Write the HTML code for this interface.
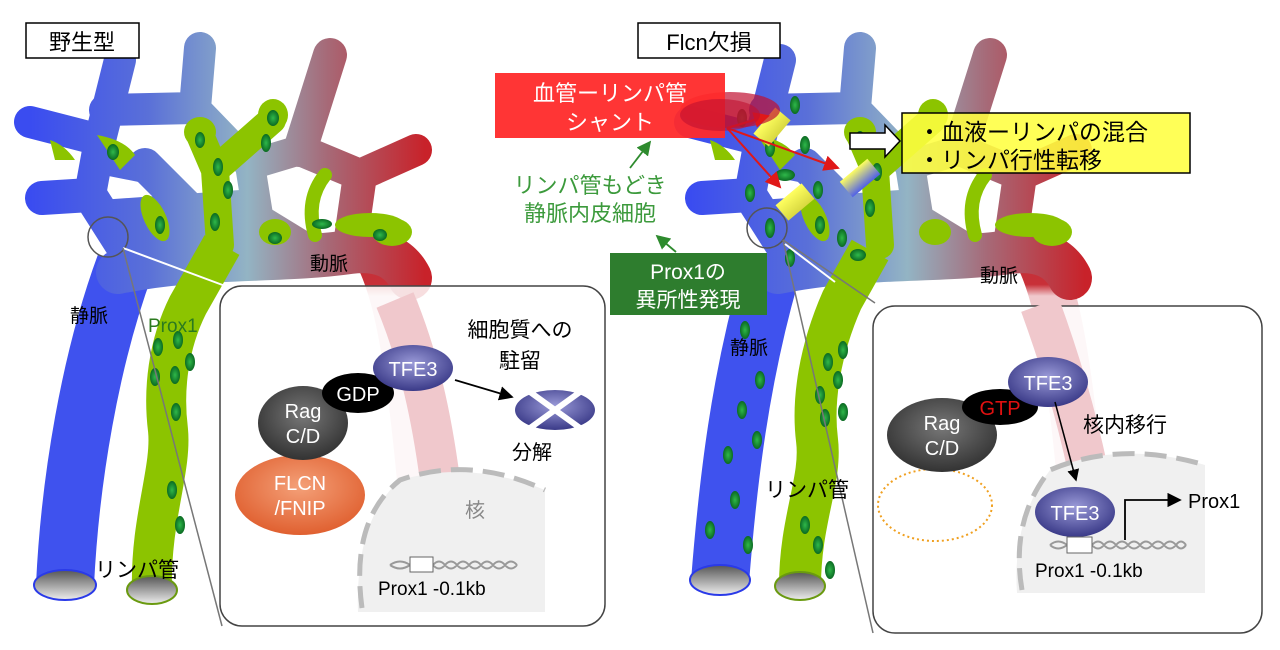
<!DOCTYPE html>
<html><head><meta charset="utf-8"><style>
html,body{margin:0;padding:0;background:#fff;width:1280px;height:650px;overflow:hidden}
svg{display:block}
text{font-family:"Liberation Sans","Noto Sans CJK JP",sans-serif}
</style></head><body>
<svg width="1280" height="650" viewBox="0 0 1280 650" xmlns="http://www.w3.org/2000/svg">
<defs>
<linearGradient id="vg" gradientUnits="userSpaceOnUse" x1="30" y1="0" x2="425" y2="0">
<stop offset="0" stop-color="#3a4cf0"/><stop offset="0.3" stop-color="#5a70d8"/><stop offset="0.55" stop-color="#93b4c4"/><stop offset="0.75" stop-color="#a66a78"/><stop offset="1" stop-color="#c8222a"/></linearGradient>
<linearGradient id="ag" gradientUnits="userSpaceOnUse" x1="0" y1="250" x2="0" y2="480">
<stop offset="0" stop-color="#c03038"/><stop offset="0.15" stop-color="#c83038"/><stop offset="0.2" stop-color="#f0c8cc"/><stop offset="1" stop-color="#f0c8cc"/></linearGradient>
<linearGradient id="tube" x1="0" y1="0" x2="0" y2="1"><stop offset="0" stop-color="#555"/><stop offset="1" stop-color="#eee"/></linearGradient>
<radialGradient id="dot" cx="0.5" cy="0.5" r="0.5"><stop offset="0" stop-color="#2fb84a"/><stop offset="1" stop-color="#0b6a22"/></radialGradient>
<radialGradient id="tfe" cx="0.5" cy="0.4" r="0.6"><stop offset="0" stop-color="#9a9ad8"/><stop offset="1" stop-color="#3a3a88"/></radialGradient>
<radialGradient id="rag" cx="0.5" cy="0.4" r="0.6"><stop offset="0" stop-color="#777"/><stop offset="1" stop-color="#333"/></radialGradient>
<radialGradient id="flcn" cx="0.5" cy="0.4" r="0.6"><stop offset="0" stop-color="#f4a078"/><stop offset="1" stop-color="#e06030"/></radialGradient>
<linearGradient id="shunt" x1="0" y1="0" x2="1" y2="0"><stop offset="0" stop-color="#ffff60"/><stop offset="1" stop-color="#d8d840"/></linearGradient>
<linearGradient id="shunt2" x1="0" y1="0" x2="1" y2="0"><stop offset="0" stop-color="#ffff60"/><stop offset="1" stop-color="#5060e8"/></linearGradient>
<marker id="ah" markerWidth="8" markerHeight="8" refX="7" refY="4" orient="auto"><path d="M0,0 L8,4 L0,8 z" fill="#000"/></marker>
<marker id="ahr" markerWidth="8" markerHeight="8" refX="7" refY="4" orient="auto"><path d="M0,0 L8,4 L0,8 z" fill="#e01818"/></marker>
<marker id="ahg" markerWidth="8" markerHeight="8" refX="7" refY="4" orient="auto"><path d="M0,0 L8,4 L0,8 z" fill="#2e8b2e"/></marker>
<g id="net">
 <path d="M365 235 C390 270 405 320 420 480" stroke="url(#ag)" stroke-width="46" fill="none"/>
 <path d="M100 200 L240 190 L330 245 L120 292 Z" fill="url(#vg)"/>
 <g stroke="url(#vg)" fill="none" stroke-linecap="round" stroke-linejoin="round">
  <path d="M118 272 C200 255 280 262 350 252 C380 248 400 258 410 278" stroke-width="44"/>
  <path d="M125 250 L90 195 L42 198" stroke-width="34"/>
  <path d="M90 195 L100 140 L30 122" stroke-width="32"/>
  <path d="M100 140 L120 60" stroke-width="32"/>
  <path d="M105 110 L195 108 L200 48" stroke-width="32"/>
  <path d="M195 108 L250 165 L300 150" stroke-width="30"/>
  <path d="M300 150 L330 55" stroke-width="34"/>
  <path d="M300 150 L360 175 L416 150" stroke-width="32"/>
  <path d="M360 175 L350 245" stroke-width="34"/>
  <path d="M145 165 L230 250" stroke-width="34"/>
  <path d="M250 165 L262 240" stroke-width="30"/>
  <path d="M100 160 L150 170" stroke-width="28"/>
 </g>
</g>
<g id="lymph" fill="#8cc400" stroke-linecap="round" stroke-linejoin="round">
 <path d="M220 245 L215 170 L200 135 M215 170 L272 120" stroke="#8cc400" stroke-width="28" fill="none"/>
 <ellipse cx="200" cy="132" rx="16" ry="15"/>
 <ellipse cx="273" cy="115" rx="15" ry="16"/>
 <path d="M97 135 Q125 140 135 155 L120 170 Z"/>
 <path d="M50 140 Q65 145 75 160 L55 160 Z"/>
 <ellipse cx="155" cy="218" rx="11" ry="25" transform="rotate(-25 155 218)"/>
 <ellipse cx="275" cy="232" rx="16" ry="13"/>
 <ellipse cx="370" cy="225" rx="35" ry="12"/>
 <ellipse cx="392" cy="232" rx="20" ry="14"/>
 <path d="M325 175 Q305 200 315 235" stroke="#8cc400" stroke-width="14" fill="none"/>
</g>
</defs>

<!-- LEFT PANEL -->
<path d="M65 585 C70 480 90 360 125 265" stroke="#3f52ee" stroke-width="58" fill="none"/>
<use href="#net"/>
<path d="M152 590 C150 520 172 470 168 430 C163 390 168 345 188 305 L222 245" stroke="#8cc400" stroke-width="40" fill="none"/>
<use href="#lymph"/>
<g fill="url(#dot)">
 <ellipse cx="113" cy="152" rx="6" ry="8"/><ellipse cx="160" cy="225" rx="5" ry="9"/>
 <ellipse cx="200" cy="140" rx="5" ry="8"/><ellipse cx="218" cy="167" rx="5" ry="9"/><ellipse cx="228" cy="190" rx="5" ry="9"/><ellipse cx="215" cy="222" rx="5" ry="9"/>
 <ellipse cx="273" cy="118" rx="6" ry="8"/><ellipse cx="266" cy="143" rx="5" ry="9"/>
 <ellipse cx="275" cy="238" rx="7" ry="6"/><ellipse cx="322" cy="224" rx="10" ry="5"/><ellipse cx="380" cy="235" rx="7" ry="6"/>
 <ellipse cx="158" cy="347" rx="5" ry="9"/><ellipse cx="178" cy="340" rx="5" ry="9"/><ellipse cx="190" cy="362" rx="5" ry="9"/><ellipse cx="155" cy="377" rx="5" ry="9"/><ellipse cx="175" cy="375" rx="5" ry="9"/><ellipse cx="176" cy="412" rx="5" ry="9"/>
 <ellipse cx="172" cy="490" rx="5" ry="9"/><ellipse cx="180" cy="525" rx="5" ry="9"/>
</g>
<ellipse cx="65" cy="585" rx="31" ry="15" fill="url(#tube)" stroke="#2a3ae8" stroke-width="2"/>
<ellipse cx="152" cy="590" rx="25" ry="14" fill="url(#tube)" stroke="#6a9a10" stroke-width="2"/>
<circle cx="108" cy="237" r="20" fill="none" stroke="#555" stroke-width="1.5"/>
<line x1="123" y1="248" x2="228" y2="287" stroke="#fff" stroke-width="2"/>
<line x1="123" y1="248" x2="222" y2="626" stroke="#777" stroke-width="1.5"/>
<rect x="220" y="286" width="385" height="340" rx="22" fill="#fff" fill-opacity="0.85" stroke="#444" stroke-width="1.5"/>
<path d="M395 300 C420 360 432 420 440 480" stroke="#f0c8cc" stroke-width="40" fill="none"/>
<rect x="26" y="23" width="113" height="35" fill="#fff" stroke="#000" stroke-width="1.5"/>
<text x="82" y="50" font-size="22" text-anchor="middle">野生型</text>
<text x="70" y="322" font-size="19">静脈</text>
<text x="148" y="332" font-size="19" fill="#2b7a1f">Prox1</text>
<text x="310" y="270" font-size="19">動脈</text>
<text x="95" y="577" font-size="21">リンパ管</text>
<path d="M358 612 L545 612 L545 490 Q470 460 400 480 Q355 520 358 612 Z" fill="#f0f0f0"/>
<path d="M362 608 Q350 520 400 480 Q470 455 545 490" fill="none" stroke="#bbb" stroke-width="5" stroke-dasharray="22,10"/>
<text x="475" y="517" font-size="20" fill="#888" text-anchor="middle">核</text>
<path d="M390 565 Q400 558 410 565 M390 565 Q400 572 410 565 M433 565 q6 -7 12 0 q6 7 12 0 q6 -7 12 0 q6 7 12 0 q6 -7 12 0 q6 7 12 0 q6 -7 12 0 M433 565 q6 7 12 0 q6 -7 12 0 q6 7 12 0 q6 -7 12 0 q6 7 12 0 q6 -7 12 0 q6 7 12 0" stroke="#999" stroke-width="2" fill="none"/>
<rect x="410" y="557" width="23" height="15" fill="#fff" stroke="#666"/>
<text x="378" y="595" font-size="19">Prox1 -0.1kb</text>
<ellipse cx="300" cy="495" rx="65" ry="40" fill="url(#flcn)"/>
<text x="300" y="490" font-size="20" fill="#fff" text-anchor="middle">FLCN</text>
<text x="300" y="515" font-size="20" fill="#fff" text-anchor="middle">/FNIP</text>
<ellipse cx="303" cy="423" rx="45" ry="37" fill="url(#rag)"/>
<text x="303" y="418" font-size="20" fill="#fff" text-anchor="middle">Rag</text>
<text x="303" y="443" font-size="20" fill="#fff" text-anchor="middle">C/D</text>
<ellipse cx="358" cy="393" rx="36" ry="20" fill="#000"/>
<text x="358" y="401" font-size="20" fill="#fff" text-anchor="middle">GDP</text>
<ellipse cx="413" cy="368" rx="40" ry="23" fill="url(#tfe)"/>
<text x="413" y="376" font-size="20" fill="#fff" text-anchor="middle">TFE3</text>
<line x1="455" y1="380" x2="512" y2="397" stroke="#000" stroke-width="1.8" marker-end="url(#ah)"/>
<ellipse cx="555" cy="410" rx="40" ry="20" fill="url(#tfe)"/>
<path d="M530 392 L580 428 M580 392 L530 428" stroke="#fff" stroke-width="6"/>
<text x="532" y="459" font-size="20" text-anchor="middle">分解</text>
<text x="520" y="337" font-size="21" text-anchor="middle">細胞質への</text>
<text x="520" y="368" font-size="21" text-anchor="middle">駐留</text>

<!-- RIGHT PANEL -->
<path d="M720 582 C728 480 740 380 770 275" stroke="#3f52ee" stroke-width="58" fill="none"/>
<g transform="translate(660,0)"><use href="#net"/></g>
<path d="M800 586 C800 520 822 480 817 440 C812 400 820 350 842 300 L870 250" stroke="#8cc400" stroke-width="42" fill="none"/>
<g transform="translate(660,0)"><use href="#lymph"/></g>
<g fill="url(#dot)">
 <ellipse cx="742" cy="118" rx="5" ry="9"/><ellipse cx="795" cy="105" rx="5" ry="9"/><ellipse cx="770" cy="148" rx="5" ry="9"/><ellipse cx="805" cy="145" rx="5" ry="9"/><ellipse cx="785" cy="175" rx="10" ry="6"/><ellipse cx="750" cy="193" rx="5" ry="9"/><ellipse cx="818" cy="190" rx="5" ry="9"/><ellipse cx="770" cy="228" rx="5" ry="10"/><ellipse cx="820" cy="225" rx="5" ry="9"/><ellipse cx="860" cy="140" rx="5" ry="9"/><ellipse cx="877" cy="172" rx="5" ry="9"/><ellipse cx="870" cy="208" rx="5" ry="9"/><ellipse cx="842" cy="238" rx="5" ry="9"/><ellipse cx="858" cy="255" rx="8" ry="6"/><ellipse cx="790" cy="258" rx="5" ry="9"/>
 <ellipse cx="755" cy="300" rx="5" ry="9"/><ellipse cx="745" cy="330" rx="5" ry="9"/><ellipse cx="760" cy="380" rx="5" ry="9"/><ellipse cx="742" cy="410" rx="5" ry="9"/><ellipse cx="757" cy="440" rx="5" ry="9"/><ellipse cx="728" cy="455" rx="5" ry="9"/><ellipse cx="735" cy="500" rx="5" ry="9"/><ellipse cx="710" cy="530" rx="5" ry="9"/><ellipse cx="748" cy="545" rx="5" ry="9"/>
 <ellipse cx="828" cy="362" rx="5" ry="9"/><ellipse cx="843" cy="350" rx="5" ry="9"/><ellipse cx="820" cy="395" rx="5" ry="9"/><ellipse cx="838" cy="380" rx="5" ry="9"/><ellipse cx="825" cy="418" rx="5" ry="9"/><ellipse cx="843" cy="412" rx="5" ry="9"/>
 <ellipse cx="805" cy="525" rx="5" ry="9"/><ellipse cx="818" cy="545" rx="5" ry="9"/><ellipse cx="830" cy="570" rx="5" ry="9"/>
</g>
<rect x="762" y="110" width="20" height="34" fill="url(#shunt)" transform="rotate(40 772 127)"/>
<rect x="850" y="160" width="20" height="36" fill="url(#shunt2)" transform="rotate(50 860 178)"/>
<rect x="785" y="185" width="20" height="34" fill="url(#shunt)" transform="rotate(50 795 202)"/>
<ellipse cx="730" cy="110" rx="50" ry="18" fill="#c01030" opacity="0.7"/>
<g stroke="#e01818" stroke-width="2" fill="none">
 <line x1="727" y1="128" x2="768" y2="116" marker-end="url(#ahr)"/>
 <line x1="727" y1="128" x2="838" y2="168" marker-end="url(#ahr)"/>
 <line x1="727" y1="128" x2="780" y2="187" marker-end="url(#ahr)"/>
</g>
<ellipse cx="720" cy="580" rx="30" ry="15" fill="url(#tube)" stroke="#2a3ae8" stroke-width="2"/>
<ellipse cx="800" cy="586" rx="25" ry="14" fill="url(#tube)" stroke="#6a9a10" stroke-width="2"/>
<circle cx="767" cy="228" r="20" fill="none" stroke="#555" stroke-width="1.5"/>
<line x1="783" y1="240" x2="875" y2="303" stroke="#777" stroke-width="1.5"/>
<line x1="783" y1="240" x2="873" y2="633" stroke="#777" stroke-width="1.5"/>
<line x1="785" y1="244" x2="835" y2="282" stroke="#fff" stroke-width="2"/>
<rect x="873" y="306" width="389" height="327" rx="22" fill="#fff" fill-opacity="0.85" stroke="#444" stroke-width="1.5"/>
<path d="M1040 305 C1060 360 1075 410 1088 470" stroke="#f0c8cc" stroke-width="40" fill="none"/>
<rect x="638" y="23" width="142" height="35" fill="#fff" stroke="#000" stroke-width="1.5"/>
<text x="709" y="50" font-size="22" text-anchor="middle">Flcn欠損</text>
<rect x="495" y="73" width="230" height="65" fill="#ff2a2a" fill-opacity="0.95"/>
<ellipse cx="720" cy="115" rx="40" ry="16" fill="#c01030" opacity="0.6"/>
<text x="610" y="101" font-size="22" fill="#fff" text-anchor="middle">血管ーリンパ管</text>
<text x="610" y="130" font-size="22" fill="#fff" text-anchor="middle">シャント</text>
<line x1="630" y1="168" x2="650" y2="142" stroke="#2e8b2e" stroke-width="1.8" marker-end="url(#ahg)"/>
<text x="590" y="193" font-size="22" fill="#3c9a3c" text-anchor="middle">リンパ管もどき</text>
<text x="590" y="221" font-size="22" fill="#3c9a3c" text-anchor="middle">静脈内皮細胞</text>
<line x1="676" y1="252" x2="657" y2="236" stroke="#2e8b2e" stroke-width="1.8" marker-end="url(#ahg)"/>
<rect x="610" y="253" width="157" height="62" fill="#2e7d2e"/>
<text x="688" y="279" font-size="21" fill="#fff" text-anchor="middle">Prox1の</text>
<text x="688" y="307" font-size="21" fill="#fff" text-anchor="middle">異所性発現</text>
<path d="M850 133 L885 133 L885 125 L900 141 L885 157 L885 149 L850 149 Z" fill="#fff" stroke="#000" stroke-width="1.5"/>
<rect x="902" y="113" width="288" height="60" fill="#ffff40" fill-opacity="0.88" stroke="#000" stroke-width="1.5"/>
<text x="918" y="140" font-size="23">・血液ーリンパの混合</text>
<text x="918" y="168" font-size="23">・リンパ行性転移</text>
<text x="730" y="354" font-size="19">静脈</text>
<text x="980" y="282" font-size="19">動脈</text>
<text x="765" y="497" font-size="21">リンパ管</text>
<path d="M1017 593 L1205 593 L1205 465 Q1120 440 1050 470 Q1012 520 1017 593 Z" fill="#f0f0f0"/>
<path d="M1022 590 Q1010 520 1050 470 Q1120 440 1205 465" fill="none" stroke="#bbb" stroke-width="5" stroke-dasharray="22,10"/>
<ellipse cx="935" cy="505" rx="57" ry="36" fill="none" stroke="#f0a020" stroke-width="2" stroke-dasharray="2,3"/>
<ellipse cx="942" cy="435" rx="55" ry="37" fill="url(#rag)"/>
<text x="942" y="430" font-size="20" fill="#fff" text-anchor="middle">Rag</text>
<text x="942" y="455" font-size="20" fill="#fff" text-anchor="middle">C/D</text>
<ellipse cx="1000" cy="407" rx="38" ry="18" fill="#000"/>
<text x="1000" y="415" font-size="20" fill="#e01010" text-anchor="middle">GTP</text>
<ellipse cx="1048" cy="382" rx="40" ry="25" fill="url(#tfe)"/>
<text x="1048" y="390" font-size="20" fill="#fff" text-anchor="middle">TFE3</text>
<line x1="1055" y1="402" x2="1076" y2="480" stroke="#000" stroke-width="1.5" marker-end="url(#ah)"/>
<text x="1125" y="432" font-size="21" text-anchor="middle">核内移行</text>
<ellipse cx="1075" cy="512" rx="40" ry="25" fill="url(#tfe)"/>
<text x="1075" y="520" font-size="20" fill="#fff" text-anchor="middle">TFE3</text>
<path d="M1050 545 Q1058 538 1067 545 M1050 545 Q1058 552 1067 545 M1092 545 q6 -7 12 0 q6 7 12 0 q6 -7 12 0 q6 7 12 0 q6 -7 12 0 q6 7 12 0 q6 -7 12 0 q5 7 10 0 M1092 545 q6 7 12 0 q6 -7 12 0 q6 7 12 0 q6 -7 12 0 q6 7 12 0 q6 -7 12 0 q6 7 12 0 q5 -7 10 0" stroke="#999" stroke-width="2" fill="none"/>
<rect x="1067" y="537" width="25" height="16" fill="#fff" stroke="#666"/>
<path d="M1125 540 L1125 500 L1180 500" stroke="#000" stroke-width="1.8" fill="none" marker-end="url(#ah)"/>
<text x="1188" y="508" font-size="20">Prox1</text>
<text x="1035" y="577" font-size="19">Prox1 -0.1kb</text>
</svg>
</body></html>
